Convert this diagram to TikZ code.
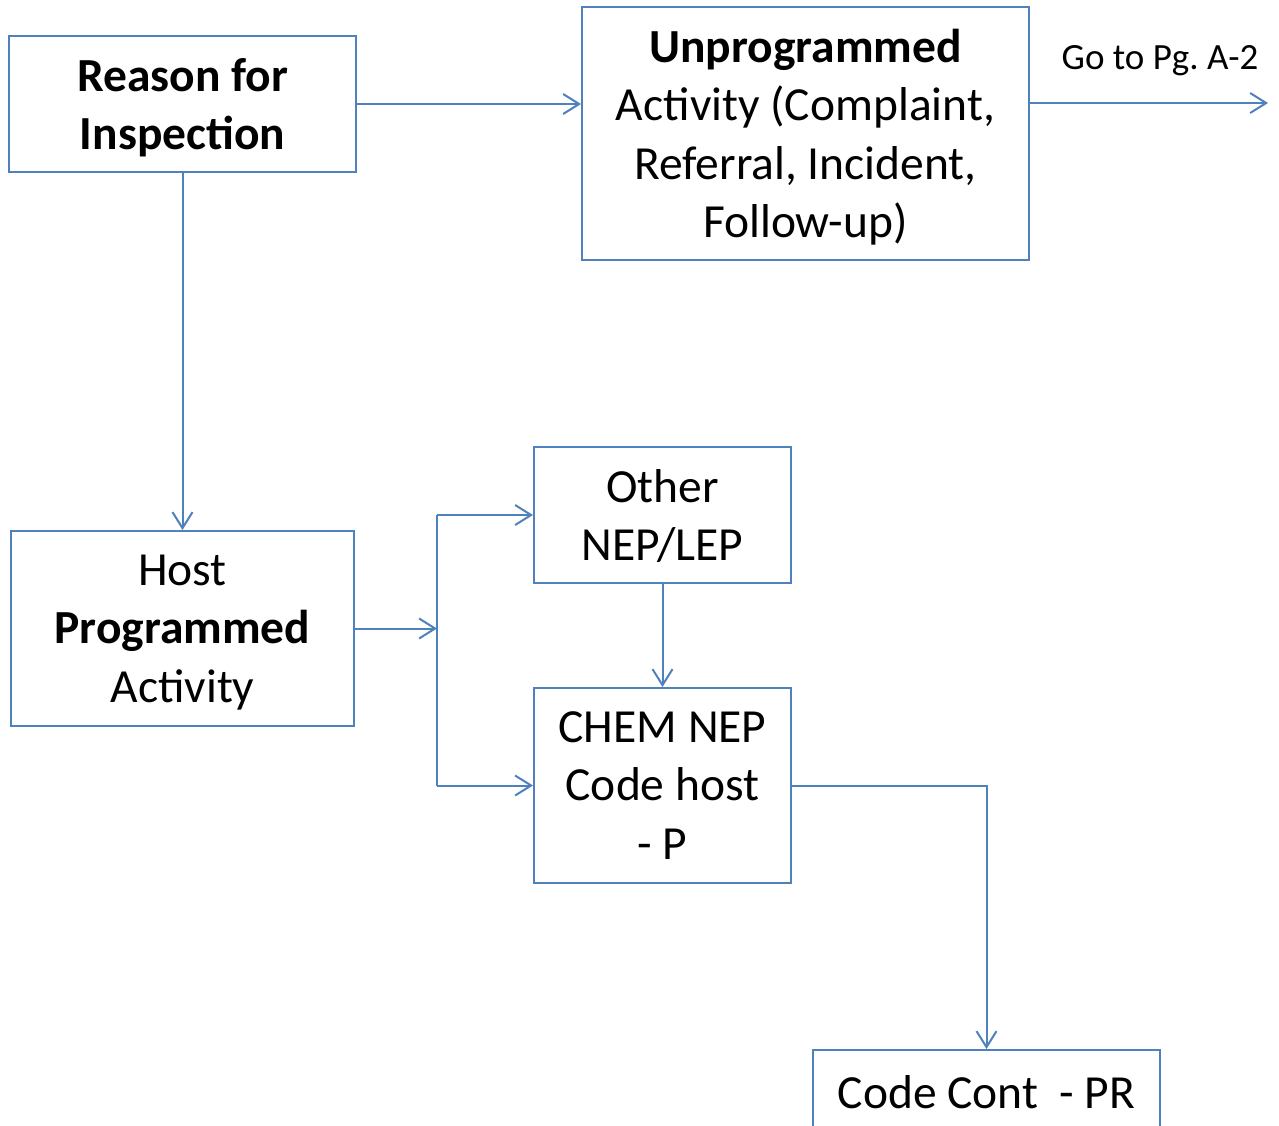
\documentclass[tikz,border=0pt]{standalone}
\usepackage{fontspec}
\setmainfont{Carlito}
\usetikzlibrary{arrows.meta}
\definecolor{lineblue}{RGB}{79,129,189}
\newcommand{\nodepth}[1]{\raisebox{0pt}[\height][0pt]{#1}}
\tikzset{
  box/.style={draw=lineblue, line width=2pt, align=center, inner sep=0pt,
    font=\fontsize{47.5}{58.5}\selectfont, text=black},
  conn/.style={draw=lineblue, line width=2pt, line join=miter,
    -{Straight Barb[length=16pt,width=20pt,line width=2pt]}},
  plain/.style={draw=lineblue, line width=2pt},
  note/.style={font=\fontsize{37}{44}\selectfont, text=black, inner sep=0pt}
}
\begin{document}
\begin{tikzpicture}[x=1pt,y=-1pt]
\clip (0,0) rectangle (1279,1125);
\fill[white] (0,0) rectangle (1279,1125);
\node[box, minimum width=347pt, minimum height=136pt] (reason) at (182.5,104)
  {\textbf{Reason for}\\\nodepth{\textbf{Inspection}}};
\node[box, minimum width=447pt, minimum height=253pt] (unprog) at (805.5,133.5)
  {\textbf{Unprogrammed}\\Activity (Complaint,\\Referral, Incident,\\\nodepth{Follow-up)}};
\node[box, minimum width=343pt, minimum height=195pt] (host) at (182.5,628.5)
  {Host\\\textbf{Programmed}\\\nodepth{Activity}};
\node[box, minimum width=257pt, minimum height=136pt] (other) at (662.5,515)
  {Other\\\nodepth{NEP/LEP}};
\node[box, minimum width=257pt, minimum height=195pt] (chem) at (662.5,785.5)
  {CHEM NEP\\Code host\\\nodepth{- P}};
\node[box, minimum width=347pt, minimum height=84pt, anchor=north] (code) at (986.5,1049)
  {Code Cont\ \ - PR};
\node[note] (goto) at (1160,61) {Go to Pg.\ A-2};
\coordinate (goend) at (1268,103);
\coordinate (j) at (437,628.5);
\coordinate (j1) at (437,515);
\coordinate (j2) at (437,785.5);
\draw[conn] (reason.east) -- (unprog.west |- reason.east);
\draw[conn] (unprog.east |- goend) -- (goend);
\draw[conn] (reason.south) -- (host.north);
\draw[conn] (host.east) -- (j);
\draw[plain] (j1) -- (j2);
\draw[conn] (j1) -- (other.west);
\draw[conn] (j2) -- (chem.west);
\draw[conn] (other.south) -- (chem.north);
\draw[conn] (chem.east) -| (code.north);
\end{tikzpicture}
\end{document}
